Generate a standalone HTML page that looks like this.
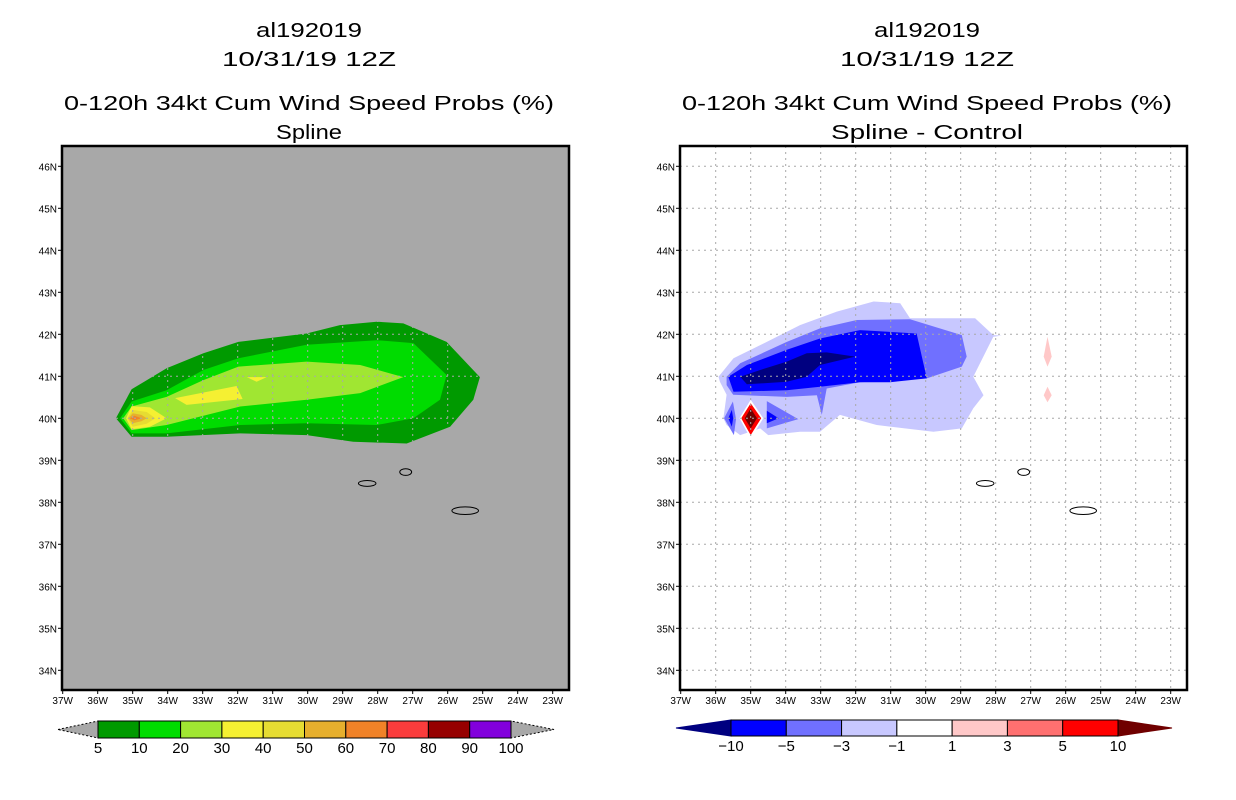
<!DOCTYPE html>
<html><head><meta charset="utf-8"><style>
html,body{margin:0;padding:0;background:#fff;}
svg{display:block;font-family:"Liberation Sans",sans-serif;}
</style></head><body>
<svg id="chart" width="1236" height="800" viewBox="0 0 1236 800" xmlns="http://www.w3.org/2000/svg">
<g font-size="20" text-anchor="middle" fill="#000">
<text x="309" y="37" textLength="106" lengthAdjust="spacingAndGlyphs">al192019</text>
<text x="309" y="66" textLength="174" lengthAdjust="spacingAndGlyphs">10/31/19 12Z</text>
<text x="309" y="110" textLength="490" lengthAdjust="spacingAndGlyphs">0-120h 34kt Cum Wind Speed Probs (%)</text>
<text x="309" y="139" textLength="66" lengthAdjust="spacingAndGlyphs">Spline</text>
</g>
<g font-size="20" text-anchor="middle" fill="#000">
<text x="927" y="37" textLength="106" lengthAdjust="spacingAndGlyphs">al192019</text>
<text x="927" y="66" textLength="174" lengthAdjust="spacingAndGlyphs">10/31/19 12Z</text>
<text x="927" y="110" textLength="490" lengthAdjust="spacingAndGlyphs">0-120h 34kt Cum Wind Speed Probs (%)</text>
<text x="927" y="139" textLength="192" lengthAdjust="spacingAndGlyphs">Spline - Control</text>
</g>
<g id="leftPanel"></g>
<g id="rightPanel"></g>
<g id="leftBar"></g>
<g id="rightBar"></g>
</svg>
<script>
// ---- data ----
const lonTicks = [37,36,35,34,33,32,31,30,29,28,27,26,25,24,23];
const latTicks = [34,35,36,37,38,39,40,41,42,43,44,45,46];
// Spline probability contours [lonW, latN]
const prob5 = [[35.48,40],[35.03,40.69],[34.03,41.19],[32.98,41.55],[31.98,41.82],[30.03,42.02],[29.08,42.22],[28.03,42.3],[27.27,42.26],[26.03,41.82],[25.08,40.98],[25.27,40.44],[25.93,39.8],[27.17,39.4],[28.7,39.44],[30.03,39.6],[31.93,39.64],[34.03,39.56],[35.03,39.56]];
const prob10 = [[35.36,40],[35.03,40.4],[34.03,40.67],[32.98,41.15],[31.98,41.43],[30.03,41.75],[28.03,41.86],[26.98,41.79],[26.03,41.03],[26.22,40.44],[26.98,40],[28.03,39.84],[30.03,39.88],[31.93,39.84],[34.03,39.64],[35.03,39.64]];
const prob20 = [[35.27,40],[35.03,40.28],[34.03,40.51],[32.98,40.91],[31.98,41.23],[30.03,41.35],[28.5,41.27],[27.27,40.98],[28.5,40.6],[30.03,40.44],[31.93,40.28],[34.03,39.84],[35.03,39.72]];
const prob30a = [[33.79,40.48],[32.03,40.77],[31.86,40.46],[33.46,40.32]];
const prob30b = [[31.74,40.98],[31.17,40.98],[31.46,40.87]];
const prob30c = [[35.19,40],[35.03,40.29],[34.51,40.26],[34.03,40],[34.51,39.8],[35.03,39.74]];
const prob40 = [[35.15,40],[35.0,40.2],[34.6,40.15],[34.35,40],[34.6,39.87],[35.0,39.8]];
const prob50 = [[35.12,40],[35.0,40.12],[34.75,40.08],[34.6,40],[34.75,39.93],[35.0,39.88]];
const prob60 = [[35.08,40],[34.95,40.06],[34.75,40],[34.95,39.95]];
// Spline - Control difference contours
const diffM1 = [[35.92,40.99],[35.49,41.43],[34.54,41.82],[33.59,42.22],[32.54,42.54],[31.49,42.78],[30.73,42.74],[30.45,42.38],[28.59,42.38],[28.07,41.98],[27.83,41.97],[28.07,41.94],[28.64,40.99],[28.35,40.55],[28.64,40.24],[28.97,39.76],[29.78,39.68],[31.4,39.84],[32.45,40.08],[33.02,39.68],[33.59,39.68],[34.5,39.6],[34.73,39.76],[35.3,39.6],[35.69,39.84],[35.78,40],[35.69,40.56],[35.88,40.87]];
const diffM3 = [[35.69,40.99],[35.3,41.31],[33.97,41.82],[33.02,42.14],[31.97,42.34],[30.45,42.36],[28.97,41.98],[28.83,41.47],[28.97,41.23],[29.97,40.95],[31.88,40.86],[32.83,40.71],[32.97,40.08],[33.11,40.55],[33.97,40.51],[35.5,40.56],[35.69,40.79]];
const diffM5 = [[35.64,40.99],[35.11,41.27],[33.97,41.63],[33.02,41.9],[31.88,42.1],[30.26,42.02],[29.97,40.95],[31.02,40.86],[31.88,40.86],[33.02,40.75],[33.97,40.67],[35.49,40.63]];
const diffM10 = [[35.3,40.99],[34.73,41.15],[33.97,41.35],[33.4,41.55],[32.83,41.57],[32.02,41.47],[33.02,41.27],[33.4,40.99],[33.97,40.87],[35.11,40.81]];
const diffM3b = [[35.76,40],[35.51,40.4],[35.42,39.98],[35.48,39.6]];
const diffM5b = [[35.64,40],[35.54,40.2],[35.5,40],[35.54,39.8]];
const diffM3c = [[34.54,40.41],[33.64,39.98],[34.54,39.76]];
const diffM5c = [[34.54,40.18],[34.2,40],[34.54,39.88]];
const diffP1 = [[35.32,40],[35.0,40.44],[34.64,40],[35.0,39.52]];
const diffP5 = [[35.27,40],[35.0,40.36],[34.7,40],[35.0,39.6]];
const diffP10 = [[35.17,40],[35.0,40.24],[34.82,40],[35.0,39.76]];
const diffPink1 = [[26.52,41.94],[26.4,41.47],[26.52,41.23],[26.63,41.47]];
const diffPink2 = [[26.52,40.75],[26.4,40.55],[26.52,40.38],[26.63,40.55]];
// Azores islands [lonW, latN, rxDeg, ryDeg]
const islands = [[28.3,38.45,0.25,0.07],[27.2,38.72,0.17,0.08],[25.5,37.8,0.38,0.09]];
const leftLevels = ["5","10","20","30","40","50","60","70","80","90","100"];
const leftColors = ["#009a00","#00dc00","#a0e632","#f5f032","#e6dc32","#e6af2d","#f08228","#fa3c3c","#960000","#8200dc"];
const rightLevels = ["-10","-5","-3","-1","1","3","5","10"];
const rightColors = ["#0000ff","#7070ff","#c8c8ff","#ffffff","#ffc8c8","#ff7070","#ff0000"];

const NS="http://www.w3.org/2000/svg";
function mk(tag,attrs,parent){const e=document.createElementNS(NS,tag);for(const k in attrs)e.setAttribute(k,attrs[k]);parent.appendChild(e);return e;}
const PW=507, PH=544, PY=146;
function xs(off){return lon=>off+0.7+(37-lon)*35;}
const yS=lat=>418.3-(lat-40)*42;
function poly(g,pts,fill,x,name){
  const p=mk('polygon',{points:pts.map(d=>x(d[0]).toFixed(1)+','+yS(d[1]).toFixed(1)).join(' '),fill:fill},g);
  
  
}
function panel(id,off,bg,drawFn){
  const g=document.getElementById(id);const x=xs(off);
  const clip=mk('clipPath',{id:id+'clip'},g);mk('rect',{x:off,y:PY,width:PW,height:PH},clip);
  const r=mk('rect',{x:off,y:PY,width:PW,height:PH,fill:bg},g);
  
  
  const c=mk('g',{'clip-path':'url(#'+id+'clip)'},g);
  drawFn(c,x);
  const gr=mk('g',{stroke:'#a8a8a8','stroke-width':1,'stroke-dasharray':'2,4'},c);
  
  
  lonTicks.forEach(l=>{if(l<37)mk('line',{x1:x(l),x2:x(l),y1:PY,y2:PY+PH},gr);});
  latTicks.forEach(l=>mk('line',{x1:off,x2:off+PW,y1:yS(l),y2:yS(l)},gr));
  islands.forEach(d=>{const e=mk('ellipse',{cx:x(d[0]),cy:yS(d[1]),rx:d[2]*35,ry:d[3]*42,fill:'none',stroke:'#000','stroke-width':1},c);
    
    });
  const b=mk('rect',{x:off,y:PY,width:PW,height:PH,fill:'none',stroke:'#000','stroke-width':2.5},g);
  
  
  lonTicks.forEach(l=>{mk('line',{x1:x(l),x2:x(l),y1:PY+PH,y2:PY+PH+4,stroke:'#000'},g);
    const t=mk('text',{x:x(l),y:704,'font-size':10,'text-anchor':'middle'},g);t.textContent=l+'W';
    
    });
  latTicks.forEach(l=>{mk('line',{x1:off-4,x2:off,y1:yS(l),y2:yS(l),stroke:'#000'},g);
    const t=mk('text',{x:off-5,y:yS(l)+4,'font-size':10,'text-anchor':'end'},g);t.textContent=l+'N';
    
    });
}
panel('leftPanel',62,'#a8a8a8',(c,x)=>{
  poly(c,prob5,leftColors[0],x,'contour-5');
  poly(c,prob10,leftColors[1],x,'contour-10');
  poly(c,prob20,leftColors[2],x,'contour-20');
  poly(c,prob30a,leftColors[3],x,'contour-30');
  poly(c,prob30b,leftColors[3],x,'contour-30');
  poly(c,prob30c,leftColors[3],x,'contour-30');
  poly(c,prob40,leftColors[4],x,'contour-40');
  poly(c,prob50,leftColors[5],x,'contour-50');
  poly(c,prob60,leftColors[6],x,'contour-60');
});
panel('rightPanel',680,'#ffffff',(c,x)=>{
  poly(c,diffM1,rightColors[2],x,'contour-minus1');
  poly(c,diffM3,rightColors[1],x,'contour-minus3');
  poly(c,diffM5,rightColors[0],x,'contour-minus5');
  poly(c,diffM10,'#000080',x,'contour-minus10');
  poly(c,diffM3b,rightColors[1],x,'contour-minus3');
  poly(c,diffM5b,rightColors[0],x,'contour-minus5');
  poly(c,diffM3c,rightColors[1],x,'contour-minus3');
  poly(c,diffM5c,rightColors[0],x,'contour-minus5');
  poly(c,diffP1,'#ffffff',x,'contour-plus1');
  poly(c,diffP5,rightColors[6],x,'contour-plus5');
  poly(c,diffP10,'#700000',x,'contour-plus10');
  poly(c,diffPink1,rightColors[4],x,'contour-plus1');
  poly(c,diffPink2,rightColors[4],x,'contour-plus1');
});
function bar(id,x0,x1,tipL,tipR,y0,y1,colors,levels,lc,rc,dotted){
  const g=document.getElementById(id);const n=colors.length;const w=(x1-x0)/n;const ym=(y0+y1)/2;
  const a=mk('polygon',{points:`${tipL},${ym} ${x0},${y0} ${x0},${y1}`,fill:lc,stroke:dotted?'#000':lc,'stroke-dasharray':dotted?'2,2':'none','stroke-width':1},g);
  
  
  const b=mk('polygon',{points:`${tipR},${ym} ${x1},${y0} ${x1},${y1}`,fill:rc,stroke:dotted?'#000':rc,'stroke-dasharray':dotted?'2,2':'none','stroke-width':1},g);
  
  
  colors.forEach((c,i)=>{const r=mk('rect',{x:x0+i*w,y:y0,width:w,height:y1-y0,fill:c,stroke:'#000','stroke-width':1},g);
    
    });
  const off=levels.length===n+1?0:1;
  levels.forEach((l,i)=>{const t=mk('text',{x:x0+(i+off)*w,y:y1+15,'font-size':15,'text-anchor':'middle'},g);t.textContent=l.replace('-','\u2212');
    
    });
}
bar('leftBar',98,511,58,554,721,738,leftColors,leftLevels,'#a8a8a8','#a8a8a8',true);
bar('rightBar',731,1118,676,1172,720,736,rightColors,rightLevels,'#000080','#700000',false);
</script>
</body></html>
